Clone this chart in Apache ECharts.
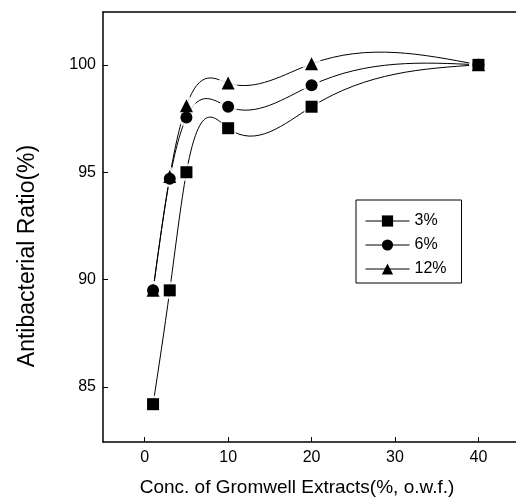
<!DOCTYPE html>
<html>
<head>
<meta charset="utf-8">
<script src="https://cdn.jsdelivr.net/npm/echarts@6/dist/echarts.min.js"></script>
<style>html,body{margin:0;padding:0;background:#fff}#c{width:516px;height:504px}</style>
</head>
<body>
<div id="c"></div>
<script>
const conc = [1, 3, 5, 10, 20, 40];
const s3 = [84.2, 89.5, 95.0, 97.05, 98.05, 100.0];
const s6 = [89.5, 94.7, 97.55, 98.05, 99.05, 100.0];
const s12 = [89.5, 94.8, 98.1, 99.15, 100.05, 100.0];
const seriesNames = ['3%', '6%', '12%'];
const xTicks = [0, 10, 20, 30, 40];
const yTicks = [85, 90, 95, 100];
const xTitle = 'Conc. of Gromwell Extracts(%, o.w.f.)';
const yTitle = 'Antibacterial Ratio(%)';

const FONT = 'Liberation Sans, Arial, sans-serif';
const chart = echarts.init(document.getElementById('c'));
function pairs(ys) { return conc.map((x, i) => [x, ys[i]]); }

// natural cubic spline through pixel points -> bezier segments
function splineBeziers(P) {
  const n = P.length;
  const h = [], M = new Array(n).fill(0);
  for (let i = 0; i < n - 1; i++) h.push(P[i + 1][0] - P[i][0]);
  const a = [], b = [], c = [], d = [];
  for (let i = 1; i < n - 1; i++) {
    a.push(h[i - 1]); b.push(2 * (h[i - 1] + h[i])); c.push(h[i]);
    d.push(6 * ((P[i + 1][1] - P[i][1]) / h[i] - (P[i][1] - P[i - 1][1]) / h[i - 1]));
  }
  const m = b.length;
  for (let i = 1; i < m; i++) {
    const w = a[i] / b[i - 1];
    b[i] -= w * c[i - 1]; d[i] -= w * d[i - 1];
  }
  const sol = new Array(m);
  for (let i = m - 1; i >= 0; i--) sol[i] = (d[i] - (i < m - 1 ? c[i] * sol[i + 1] : 0)) / b[i];
  for (let i = 0; i < m; i++) M[i + 1] = sol[i];
  const segs = [];
  for (let i = 0; i < n - 1; i++) {
    const hh = h[i], dd = (P[i + 1][1] - P[i][1]) / hh;
    const s0 = dd - hh * (2 * M[i] + M[i + 1]) / 6;
    const s1 = dd + hh * (M[i] + 2 * M[i + 1]) / 6;
    segs.push({
      x1: P[i][0], y1: P[i][1], x2: P[i + 1][0], y2: P[i + 1][1],
      cpx1: P[i][0] + hh / 3, cpy1: P[i][1] + s0 * hh / 3,
      cpx2: P[i + 1][0] - hh / 3, cpy2: P[i + 1][1] - s1 * hh / 3
    });
  }
  return segs;
}

function curve(ys) {
  return {
    type: 'custom', silent: true, z: 2,
    data: pairs(ys),
    encode: { x: 0, y: 1 },
    renderItem: function (params, api) {
      if (params.dataIndex !== 0) return null;
      const P = pairs(ys).map(p => api.coord(p));
      return {
        type: 'group',
        children: splineBeziers(P).map(s => ({
          type: 'bezierCurve', shape: s,
          style: { stroke: '#000', lineWidth: 1, fill: null }
        }))
      };
    }
  };
}
function halo(ys, size) {
  return {
    type: 'scatter', silent: true, z: 3, data: pairs(ys),
    symbol: 'circle', symbolSize: size, itemStyle: { color: '#fff' }
  };
}
function marks(name, ys, symbol, size) {
  return {
    name, type: 'line', data: pairs(ys), z: 4,
    symbol, symbolSize: size, showSymbol: true,
    itemStyle: { color: '#000' },
    lineStyle: { color: '#000', width: 1, opacity: 0 }
  };
}
chart.setOption({
  animation: false,
  backgroundColor: '#fff',
  grid: { left: 103, top: 12, right: 0, bottom: 62, containLabel: false },
  legend: {
    left: 356, top: 200, orient: 'vertical',
    data: seriesNames,
    borderColor: '#000', borderWidth: 1,
    padding: [13, 15, 6, 9],
    itemWidth: 44, itemHeight: 14, itemGap: 8,
    lineStyle: { opacity: 1, color: '#000', width: 1 },
    textStyle: { fontFamily: FONT, fontSize: 16, lineHeight: 16, color: '#000' },
    backgroundColor: '#fff'
  },
  graphic: [
    { type: 'text', x: 297, y: 488, style: { text: xTitle, font: '19px ' + FONT, fill: '#000', textAlign: 'center', textVerticalAlign: 'middle' } },
    { type: 'text', x: 27.5, y: 256, rotation: Math.PI / 2, style: { text: yTitle, font: '23px ' + FONT, fill: '#000', textAlign: 'center', textVerticalAlign: 'middle' } }
  ],
  xAxis: [{
    type: 'value', min: -5, max: 44.5,
    axisLine: { show: true, onZero: false, lineStyle: { color: '#000', width: 1.5 } },
    axisTick: { show: true, inside: true, length: 5, customValues: xTicks, lineStyle: { color: '#000' } },
    axisLabel: { customValues: xTicks, fontFamily: FONT, fontSize: 16, color: '#000', margin: 8 },
    splitLine: { show: false }
  }, {
    type: 'value', position: 'top', min: -5, max: 44.5,
    axisLine: { show: true, onZero: false, lineStyle: { color: '#000', width: 1.5 } },
    axisTick: { show: false }, axisLabel: { show: false }, splitLine: { show: false }
  }],
  yAxis: {
    type: 'value', min: 82.44, max: 102.46,
    axisLine: { show: true, onZero: false, lineStyle: { color: '#000', width: 1.5 } },
    axisTick: { show: true, inside: true, length: 5, customValues: yTicks, lineStyle: { color: '#000' } },
    axisLabel: { customValues: yTicks, fontFamily: FONT, fontSize: 16, color: '#000', margin: 7 },
    splitLine: { show: false }
  },
  series: [
    curve(s3), curve(s6), curve(s12),
    halo(s3, 18), halo(s6, 18), halo(s12, 19),
    marks('3%', s3, 'rect', 12),
    marks('6%', s6, 'circle', 12),
    marks('12%', s12, 'triangle', 13)
  ]
});
</script>
</body>
</html>
